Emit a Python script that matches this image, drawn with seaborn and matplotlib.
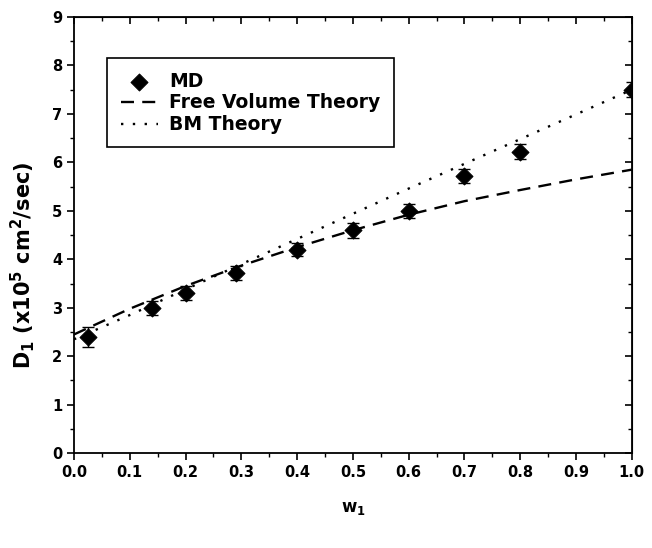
import numpy as np
import pandas as pd
import matplotlib
matplotlib.use("Agg")
import matplotlib.pyplot as plt
import seaborn as sns

# MD simulation points
md_w1 = [0.025, 0.14, 0.2, 0.29, 0.4, 0.5, 0.6, 0.7, 0.8, 1.0]
md_d1 = [2.4, 3.0, 3.3, 3.72, 4.2, 4.6, 5.0, 5.72, 6.22, 7.5]
md_err = [0.2, 0.15, 0.14, 0.14, 0.14, 0.15, 0.15, 0.15, 0.16, 0.15]

# theory curves
theory_w1 = [0.0, 0.1, 0.2, 0.3, 0.4, 0.5, 0.6, 0.7, 0.8, 0.9, 1.0]
free_volume = [2.45, 2.98, 3.45, 3.87, 4.25, 4.6, 4.92, 5.2, 5.43, 5.65, 5.85]
bm_theory = [2.35, 2.85, 3.38, 3.9, 4.42, 4.94, 5.46, 5.97, 6.48, 6.99, 7.5]

sns.set_style("ticks")
plt.rcParams["font.family"] = ["DejaVu Sans"]
plt.rcParams["font.weight"] = "bold"
plt.rcParams["mathtext.default"] = "regular"
for key in ["text.color", "axes.labelcolor", "xtick.color", "ytick.color", "axes.edgecolor"]:
    plt.rcParams[key] = "black"

md = pd.DataFrame({"w1": md_w1, "d1": md_d1})
th = pd.DataFrame({"w1": theory_w1, "fv": free_volume, "bm": bm_theory})

fig = plt.figure(figsize=(6.52, 5.48), dpi=100)
ax = fig.add_axes([0.1135, 0.173, 0.8555, 0.796])

ax.errorbar(md_w1, md_d1, yerr=md_err, fmt="none", ecolor="black",
            elinewidth=1.0, capsize=4.5, capthick=1.0, zorder=3)
sns.scatterplot(data=md, x="w1", y="d1", marker="D", color="black", s=75,
                edgecolor="black", ax=ax, label="MD", zorder=4)
sns.lineplot(data=th, x="w1", y="fv", color="black", lw=1.7, ax=ax,
             label="Free Volume Theory", linestyle=(0, (5.5, 3.5)))
sns.lineplot(data=th, x="w1", y="bm", color="black", lw=1.7, ax=ax,
             label="BM Theory", linestyle=(0, (1, 4)))

ax.set_xlim(0, 1.0)
ax.set_ylim(0, 9)
ax.set_xticks(np.arange(0, 1.01, 0.1))
ax.set_xticks(np.arange(0.05, 1.0, 0.1), minor=True)
ax.set_yticks(np.arange(0, 10, 1))
ax.set_yticks(np.arange(0.5, 9, 1), minor=True)
ax.set_xticklabels([f"{v:.1f}" for v in np.arange(0, 1.01, 0.1)])
ax.tick_params(which="major", direction="out", length=5, width=1.2,
               labelsize=10.5, top=False, right=False)
ax.tick_params(which="minor", direction="out", length=3, width=1.0)
for s in ax.spines.values():
    s.set_linewidth(1.3)

# inward ticks on the right and top sides
sec_y = ax.secondary_yaxis("right")
sec_y.set_yticks(np.arange(0, 10, 1))
sec_y.set_yticks(np.arange(0.5, 9, 1), minor=True)
sec_y.tick_params(which="major", direction="in", length=5, width=1.2, labelright=False)
sec_y.tick_params(which="minor", direction="in", length=3, width=1.0)
sec_x = ax.secondary_xaxis("top")
sec_x.set_xticks(np.arange(0, 1.01, 0.1))
sec_x.set_xticks(np.arange(0.05, 1.0, 0.1), minor=True)
sec_x.tick_params(which="major", direction="in", length=5, width=1.2, labeltop=False)
sec_x.tick_params(which="minor", direction="in", length=3, width=1.0)

ax.set_xlabel("w$_1$", fontsize=12, fontweight="bold", labelpad=14)
ax.set_ylabel("D$_1$ (x10$^5$ cm$^2$/sec)", fontsize=15, fontweight="bold")
ax.yaxis.set_label_coords(-0.066, 0.43)

leg = ax.legend(loc="upper left", bbox_to_anchor=(0.06, 0.905), frameon=True,
                fancybox=False, edgecolor="black", framealpha=1.0, fontsize=13.5,
                handlelength=2.0, borderpad=0.7, labelspacing=0.15,
                handletextpad=0.6, borderaxespad=0.0)
leg.get_frame().set_linewidth(1.2)
for t in leg.get_texts():
    t.set_fontweight("bold")

fig.savefig("out.png", dpi=100)
